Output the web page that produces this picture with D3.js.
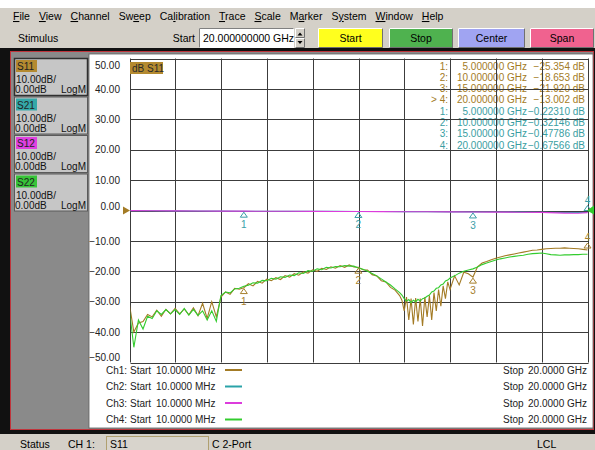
<!DOCTYPE html>
<html>
<head>
<meta charset="utf-8">
<script src="https://cdn.jsdelivr.net/npm/d3@7"></script>
<style>
  body { margin: 0; background: #fff; }
  svg { display: block; font-family: "Liberation Sans", Arial, sans-serif; }
</style>
</head>
<body>
<svg id="vna" width="595" height="450"></svg>
<script>
// sweep points in GHz (denser around the S11 dip)
var freqs = [0.01, 0.2, 0.4, 0.6, 0.8, 1.0, 1.2, 1.4, 1.6, 1.8,
  2.0, 2.2, 2.4, 2.6, 2.8, 3.0, 3.2, 3.4, 3.6, 3.8,
  4.0, 4.2, 4.4, 4.6, 4.8, 5.0, 5.2, 5.4, 5.6, 5.8,
  6.0, 6.2, 6.4, 6.6, 6.8, 7.0, 7.2, 7.4, 7.6, 7.8,
  8.0, 8.2, 8.4, 8.6, 8.8, 9.0, 9.2, 9.4, 9.6, 9.8,
  10.0, 10.2, 10.4, 10.6, 10.8, 11.0, 11.2, 11.4, 11.6, 11.8,
  11.9, 12.0, 12.1, 12.2, 12.3, 12.4, 12.5, 12.6, 12.7, 12.8,
  12.9, 13.0, 13.1, 13.2, 13.3, 13.4, 13.5, 13.6, 13.7, 13.8,
  13.9, 14.0, 14.2, 14.4, 14.6, 14.8, 15.0, 15.2, 15.4, 15.6,
  15.8, 16.0, 16.2, 16.4, 16.6, 16.8, 17.0, 17.2, 17.4, 17.6,
  17.8, 18.0, 18.2, 18.4, 18.6, 18.8, 19.0, 19.2, 19.4, 19.6,
  19.8, 20.0];

// Ch1 S11 (dB)
var s11 = [-31, -40, -37, -36.5, -34.2, -35, -32.8, -34.8, -32.5, -34,
  -32.2, -34, -32.4, -34.3, -32, -34.6, -30.5, -35.5, -30, -35,
  -28.5, -26.8, -27.6, -25.6, -25.9, -25.4, -24.1, -24.8, -23.3, -23.9,
  -22.6, -23.1, -22.1, -22.7, -21.4, -21.9, -20.8, -21.3, -20.2, -20.6,
  -19.5, -20, -19, -19.4, -18.5, -19, -18.1, -18.7, -17.9, -18.6,
  -18.65, -19.5, -19.6, -21.1, -21.5, -23.1, -23.5, -25.3, -26.2, -28,
  -29.5, -33, -28.5, -36, -29, -37.5, -28.8, -36.5, -29, -38,
  -28.5, -35, -28, -36, -27, -33, -26, -31.5, -24.8, -29,
  -23.5, -26, -21.5, -24.5, -20.3, -20.8, -21.9, -18.5, -17.3, -16.8,
  -16.2, -15.7, -15.3, -14.9, -14.6, -14.3, -14.0, -13.7, -13.4, -13.1,
  -13.0, -12.8, -12.6, -12.5, -12.4, -12.4, -12.3, -12.4, -12.5, -12.6,
  -12.8, -13.0];

// Ch4 S22 (dB)
var s22 = [-33, -45, -36, -39, -34.8, -35.5, -33, -34.2, -32.6, -34,
  -32.6, -34.2, -32.2, -34.4, -32.5, -34.5, -33, -36, -33, -36.5,
  -28, -26.8, -27.1, -25.8, -25.6, -24.9, -24.6, -23.8, -23.9, -23,
  -23.1, -22.3, -22.6, -21.8, -22, -21.2, -21.4, -20.5, -20.7, -19.8,
  -20, -19.2, -19.5, -18.7, -18.9, -18.4, -18.5, -18.1, -18.3, -18.3,
  -18.9, -19.3, -20, -20.7, -21.5, -22.5, -23.5, -24.5, -25.8, -27,
  -27.8, -29, -29.8, -29.3, -30.3, -29.5, -30, -29.2, -29.8, -29,
  -28.8, -28.2, -27.8, -26.8, -26.5, -25.6, -25.4, -24.5, -24.2, -23.2,
  -22.9, -22.2, -21.5, -20.6, -20, -19.6, -19.2, -18.6, -17.8, -17.3,
  -16.8, -16.3, -15.9, -15.6, -15.3, -15.1, -14.9, -14.7, -14.4, -14.2,
  -14.1, -14.0, -14.2, -14.5, -14.6, -14.7, -14.6, -14.6, -14.5, -14.5,
  -14.4, -14.4];

// Ch2 S21 / Ch3 S12 (dB)
var thruFreqs = [0.01, 1, 2, 3, 4, 5, 6, 7, 8, 9, 10, 11, 12, 13, 14, 15, 16, 17, 18, 19, 19.6, 20];
var s21 = [-0.05, -0.1, -0.12, -0.15, -0.19, -0.223, -0.24, -0.26, -0.28, -0.3, -0.321,
  -0.35, -0.38, -0.41, -0.44, -0.478, -0.51, -0.55, -0.6, -0.64, -0.66, -0.676];
var s12 = [-0.05, -0.1, -0.13, -0.16, -0.2, -0.22, -0.25, -0.27, -0.29, -0.31, -0.33,
  -0.36, -0.39, -0.42, -0.45, -0.48, -0.52, -0.56, -0.62, -0.85, -0.9, -0.7];

var yTicks = [50, 40, 30, 20, 10, 0, -10, -20, -30, -40, -50];
var markerFreqs = [5, 10, 15, 20];
var s11Marks = [-25.354, -18.653, -21.920, -13.002];
var s21Marks = [-0.22310, -0.32146, -0.47786, -0.67566];

var menuItems = ["File", "View", "Channel", "Sweep", "Calibration", "Trace", "Scale", "Marker", "System", "Window", "Help"];
var menuKeys = [0, 0, 0, 2, 2, 0, 0, 1, 1, 0, 0];
var channels = ["S11", "S21", "S12", "S22"];
var startText = "10.0000 MHz", stopText = "20.0000 GHz";

var traceColors = ["#a37b25", "#2aa3a8", "#dc3cdc", "#33cc2e"];
var tagColors = ["#b48a30", "#34a8a8", "#e040e0", "#38c438"];

var svg = d3.select("#vna");

function bevel(x, y, w, h, fill, sunken) {
	var hi = sunken ? "#808080" : "#ffffff", lo = sunken ? "#ffffff" : "#707070";
	svg.append("rect").attr("x", x).attr("y", y).attr("width", w).attr("height", h).attr("fill", fill);
	svg.append("path").attr("d", "M" + (x + 0.5) + "," + (y + h) + "V" + (y + 0.5) + "H" + (x + w))
		.attr("fill", "none").attr("stroke", hi);
	svg.append("path").attr("d", "M" + (x + 0.5) + "," + (y + h - 0.5) + "H" + (x + w - 0.5) + "V" + (y + 0.5))
		.attr("fill", "none").attr("stroke", lo);
}

// ---- window chrome ----
svg.append("rect").attr("width", 595).attr("height", 450).attr("fill", "#fff");
svg.append("rect").attr("y", 8).attr("width", 595).attr("height", 40).attr("fill", "#d4d0c8");

var mx = 13;
menuItems.forEach(function(m, i) {
	var k = menuKeys[i];
	var t = svg.append("text").attr("x", mx).attr("y", 20).attr("font-size", 10.5).attr("fill", "#000");
	t.append("tspan").text(m.slice(0, k));
	t.append("tspan").attr("text-decoration", "underline").text(m.charAt(k));
	t.append("tspan").text(m.slice(k + 1));
	mx += t.node().getComputedTextLength() + 9;
});

svg.append("text").attr("x", 18).attr("y", 42).attr("font-size", 10.5).text("Stimulus");
svg.append("text").attr("x", 195).attr("y", 42).attr("font-size", 10.5).attr("text-anchor", "end").text("Start");
bevel(199, 28, 95, 20, "#ffffff", true);
svg.append("text").attr("x", 203).attr("y", 42).attr("font-size", 10.5).text("20.000000000 GHz");
bevel(295, 28, 10, 10, "#d4d0c8", false);
bevel(295, 38, 10, 10, "#d4d0c8", false);
svg.append("path").attr("d", "M297.5,35.5h5l-2.5,-3z M297.5,41h5l-2.5,3z").attr("fill", "#000");

var stim = [
	{label: "Start", x: 318, w: 65, fill: "#ffff1e"},
	{label: "Stop", x: 389, w: 64, fill: "#4fb24f"},
	{label: "Center", x: 458, w: 67, fill: "#a0a4f2"},
	{label: "Span", x: 530, w: 64, fill: "#f0628f"}
];
stim.forEach(function(b) {
	bevel(b.x, 28, b.w, 20, b.fill, false);
	svg.append("text").attr("x", b.x + b.w / 2).attr("y", 42).attr("font-size", 10.5)
		.attr("text-anchor", "middle").text(b.label);
});

// frame
svg.append("rect").attr("y", 48).attr("width", 595).attr("height", 386).attr("fill", "#111");
svg.append("rect").attr("x", 10.5).attr("y", 51.5).attr("width", 583).attr("height", 378)
	.attr("fill", "#8a8a8a").attr("stroke", "#c0343c");
svg.append("rect").attr("x", 89).attr("y", 54).attr("width", 504).attr("height", 374)
	.attr("fill", "#fff").attr("stroke", "#606060").attr("stroke-width", 0.8);

// channel buttons on the left
channels.forEach(function(c, i) {
	var top = 58 + i * 38.5;
	svg.append("rect").attr("x", 14.5).attr("y", top + 0.5).attr("width", 73).attr("height", 37)
		.attr("fill", "#c6c6c6").attr("stroke", i === 0 ? "#303030" : "#5a5a5a").attr("stroke-width", i === 0 ? 1.5 : 1);
	svg.append("rect").attr("x", 16).attr("y", top + 2).attr("width", 21).attr("height", 12).attr("fill", tagColors[i]);
	svg.append("text").attr("x", 17).attr("y", top + 12).attr("font-size", 10).attr("fill", "#222").text(c);
	svg.append("text").attr("x", 16).attr("y", top + 25).attr("font-size", 10).attr("fill", "#111").text("10.00dB/");
	svg.append("text").attr("x", 15).attr("y", top + 35).attr("font-size", 10).attr("fill", "#111").text("0.00dB");
	svg.append("text").attr("x", 86).attr("y", top + 35).attr("font-size", 10).attr("fill", "#111")
		.attr("text-anchor", "end").text("LogM");
});

// ---- plot ----
var x = d3.scaleLinear().domain([0.01, 20]).range([129.5, 587.5]);
var y = d3.scaleLinear().domain([-50, 50]).range([362.5, 58.5]);

var yAxis = d3.axisLeft(y).tickValues(yTicks).tickSize(0).tickPadding(0).tickFormat(d3.format(".2f"));
var ya = svg.append("g").attr("transform", "translate(120,0)").call(yAxis);
ya.select(".domain").remove();
ya.selectAll("text").attr("font-size", 10).attr("font-family", "Liberation Sans, Arial, sans-serif").attr("fill", "#222")
	.attr("dy", function(d) { return d === 50 ? "0.97em" : d === -50 ? "-0.22em" : d === 0 ? "-0.12em" : "0.32em"; });

// marker readout table
var rows = [];
markerFreqs.forEach(function(f, i) {
	rows.push({n: (i === 3 ? "> " : "") + (i + 1) + ":", f: f, v: d3.format(".3f")(s11Marks[i]), c: traceColors[0]});
});
markerFreqs.forEach(function(f, i) {
	rows.push({n: (i + 1) + ":", f: f, v: d3.format(".5f")(s21Marks[i]), c: "#3a9ea2"});
});
rows.forEach(function(r, i) {
	var yy = 69.5 + i * 11.33;
	svg.append("text").attr("x", 448).attr("y", yy).attr("font-size", 10).attr("text-anchor", "end").attr("fill", r.c).text(r.n);
	svg.append("text").attr("x", 527).attr("y", yy).attr("font-size", 10).attr("text-anchor", "end").attr("fill", r.c)
		.text(d3.format(".6f")(r.f) + " GHz");
	svg.append("text").attr("x", 585).attr("y", yy).attr("font-size", 10).attr("text-anchor", "end").attr("fill", r.c)
		.text(r.v + " dB");
});

// grid
var xr = x.range();
var gx = d3.range(11).map(function(i) { return Math.round(xr[0] + i * (xr[1] - xr[0]) / 10) + 0.5; });
var grid = svg.append("g").attr("stroke", "#3c3c3c").attr("stroke-width", 1);
grid.selectAll(".v").data(gx).enter().append("line")
	.attr("x1", function(d) { return d; }).attr("x2", function(d) { return d; })
	.attr("y1", y(50)).attr("y2", y(-50));
grid.selectAll(".h").data(yTicks).enter().append("line")
	.attr("x1", gx[0]).attr("x2", gx[10])
	.attr("y1", function(d) { return Math.round(y(d)) + 0.5; }).attr("y2", function(d) { return Math.round(y(d)) + 0.5; });

svg.append("rect").attr("x", 130).attr("y", 62).attr("width", 33).attr("height", 12).attr("fill", tagColors[0]);
svg.append("text").attr("x", 132).attr("y", 72).attr("font-size", 10).attr("fill", "#2a2a2a").text("dB S11");

svg.append("clipPath").attr("id", "clip").append("rect")
	.attr("x", gx[0]).attr("y", y(50)).attr("width", gx[10] - gx[0] + 1).attr("height", y(-50) - y(50));

var line = d3.line()
	.x(function(d) { return x(d[0]); })
	.y(function(d) { return y(d[1]); });

var traces = [
	{f: freqs, v: s11, c: traceColors[0]},
	{f: thruFreqs, v: s21, c: traceColors[1]},
	{f: thruFreqs, v: s12, c: traceColors[2]},
	{f: freqs, v: s22, c: traceColors[3]}
];
var tg = svg.append("g").attr("clip-path", "url(#clip)");
traces.forEach(function(t) {
	tg.append("path").datum(d3.zip(t.f, t.v)).attr("d", line)
		.attr("fill", "none").attr("stroke", t.c).attr("stroke-width", 1.1);
});

// markers
function drawMarkers(vals, color) {
	markerFreqs.forEach(function(f, i) {
		var px = x(f), py = y(vals[i]);
		var last = i === markerFreqs.length - 1;
		var t0 = last ? py - 7 : py + 1, t1 = last ? py - 2 : py + 6;
		svg.append("path").attr("d", "M" + px + "," + t0 + "L" + (px + 3.5) + "," + t1 + "L" + (px - 3.5) + "," + t1 + "Z")
			.attr("fill", "none").attr("stroke", color).attr("stroke-width", 1);
		svg.append("text").attr("x", px).attr("y", last ? py - 9 : py + 17).attr("font-size", 10)
			.attr("text-anchor", "middle").attr("fill", color).text(i + 1);
	});
}
drawMarkers(s11Marks, "#a6802e");
drawMarkers(s21Marks, "#3a9ea8");

// reference level markers
svg.append("path").attr("d", "M123," + (y(0) - 4) + "L130," + y(0) + "L123," + (y(0) + 4) + "Z").attr("fill", traceColors[0]);
svg.append("path").attr("d", "M594," + (y(0) - 5) + "L587," + y(0) + "L594," + (y(0) + 4) + "Z").attr("fill", traceColors[3]);

// legend
channels.forEach(function(c, i) {
	var yy = 373.5 + i * 16.5;
	svg.append("text").attr("x", 106).attr("y", yy).attr("font-size", 10).attr("fill", "#222").text("Ch" + (i + 1) + ":");
	svg.append("text").attr("x", 130).attr("y", yy).attr("font-size", 10).attr("fill", "#222").text("Start");
	svg.append("text").attr("x", 156).attr("y", yy).attr("font-size", 10).attr("fill", "#222").text(startText);
	svg.append("line").attr("x1", 225).attr("x2", 242).attr("y1", yy - 3.5).attr("y2", yy - 3.5)
		.attr("stroke", traceColors[i]).attr("stroke-width", 2);
	svg.append("text").attr("x", 503).attr("y", yy).attr("font-size", 10).attr("fill", "#222").text("Stop");
	svg.append("text").attr("x", 587).attr("y", yy).attr("font-size", 10).attr("fill", "#222")
		.attr("text-anchor", "end").text(stopText);
});

// status bar
svg.append("rect").attr("y", 434).attr("width", 595).attr("height", 16).attr("fill", "#d4d0c8");
svg.append("text").attr("x", 20).attr("y", 448).attr("font-size", 10.5).text("Status");
svg.append("text").attr("x", 68).attr("y", 448).attr("font-size", 10.5).text("CH 1:");
svg.append("rect").attr("x", 106.5).attr("y", 436.5).attr("width", 102).attr("height", 16)
	.attr("fill", "#d8d4cc").attr("stroke", "#b0a070");
svg.append("text").attr("x", 110).attr("y", 448).attr("font-size", 10.5).text("S11");
svg.append("text").attr("x", 212).attr("y", 448).attr("font-size", 10.5).text("C  2-Port");
svg.append("text").attr("x", 537).attr("y", 448).attr("font-size", 10.5).text("LCL");
</script>
</body>
</html>
